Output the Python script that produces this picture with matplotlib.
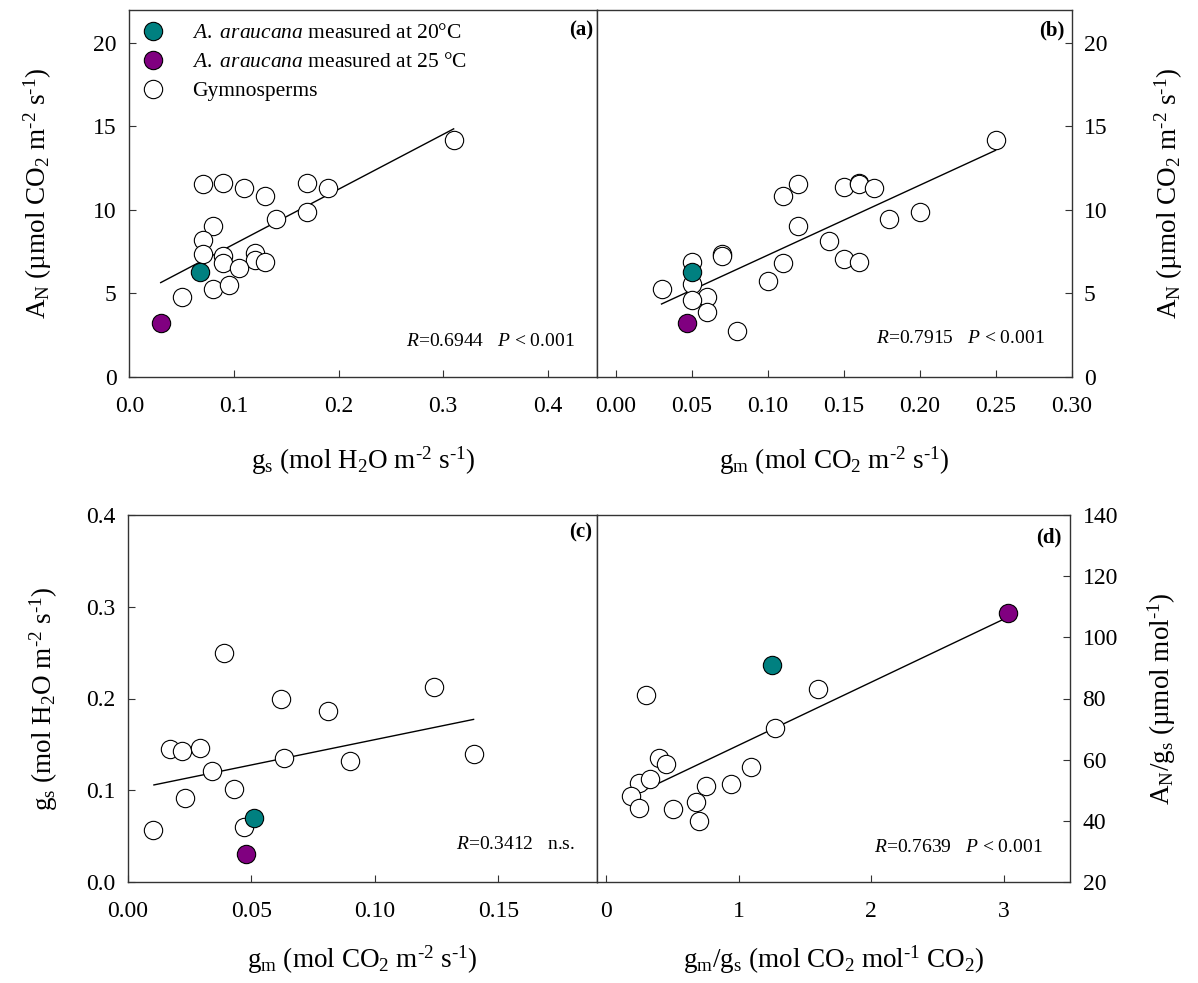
import matplotlib
matplotlib.use("Agg")
import matplotlib.pyplot as plt
import numpy as np
from matplotlib.lines import Line2D

plt.rcParams['font.family'] = ['Liberation Serif', 'DejaVu Serif']
plt.rcParams['mathtext.fontset'] = 'custom'
plt.rcParams['mathtext.rm'] = 'Liberation Serif'
plt.rcParams['mathtext.it'] = 'Liberation Serif:italic'
plt.rcParams['mathtext.bf'] = 'Liberation Serif:bold'
plt.rcParams['mathtext.default'] = 'regular'

TEAL = '#008080'
PURPLE = '#800080'

# ---- panel (a): A_N vs g_s ----
a_gs = [0.05, 0.07, 0.09, 0.11, 0.13, 0.17, 0.19, 0.31, 0.08, 0.14, 0.17,
        0.07, 0.07, 0.09, 0.09, 0.12, 0.12, 0.13, 0.105, 0.08, 0.095]
a_an = [4.75, 11.55, 11.6, 11.3, 10.8, 11.6, 11.3, 14.2, 9.05, 9.45, 9.85,
        8.2, 7.35, 7.26, 6.8, 7.4, 7.0, 6.9, 6.5, 5.28, 5.5]
a_teal = (0.068, 6.3)
a_purple = (0.03, 3.2)
a_fit = (4.65, 32.9, 0.03, 0.31)   # intercept, slope, x from, x to

# ---- panel (b): A_N vs g_m ----
b_gm = [0.25, 0.12, 0.11, 0.15, 0.16, 0.16, 0.17, 0.18, 0.20, 0.12, 0.14,
        0.07, 0.07, 0.11, 0.15, 0.16, 0.05, 0.05, 0.03, 0.10, 0.06, 0.05,
        0.06, 0.08]
b_an = [14.2, 11.55, 10.8, 11.35, 11.6, 11.55, 11.3, 9.45, 9.85, 9.05, 8.15,
        7.35, 7.26, 6.8, 7.05, 6.85, 6.9, 5.55, 5.28, 5.75, 4.75, 4.6,
        3.9, 2.75]
b_teal = (0.050, 6.26)
b_purple = (0.047, 3.24)
b_fit = (3.1, 41.85, 0.03, 0.25)

# ---- panel (c): g_s vs g_m ----
c_gm = [0.010, 0.017, 0.022, 0.029, 0.023, 0.034, 0.039, 0.043, 0.047,
        0.062, 0.063, 0.081, 0.090, 0.124, 0.140]
c_gs = [0.057, 0.145, 0.143, 0.146, 0.092, 0.121, 0.250, 0.101, 0.060,
        0.199, 0.135, 0.186, 0.132, 0.212, 0.140]
c_teal = (0.051, 0.070)
c_purple = (0.048, 0.030)
c_fit = (0.100, 0.5516, 0.0105, 0.140)

# ---- panel (d): A_N/g_s vs g_m/g_s ----
d_ratio = [0.30, 1.60, 1.27, 0.40, 0.45, 1.09, 0.25, 0.33, 0.75, 0.94,
           0.19, 0.25, 0.50, 0.68, 0.70]
d_wue = [81.0, 83.1, 70.3, 60.5, 58.6, 57.7, 52.3, 53.7, 51.5, 52.2,
         48.2, 44.1, 43.8, 46.3, 39.9]
d_teal = (1.25, 91.0)
d_purple = (3.03, 108.0)
d_fit = (44.14, 20.6, 0.209, 3.03)

W, H = 1198, 983
fig = plt.figure(figsize=(W / 100, H / 100), dpi=100)


def px_axes(x0, x1, y0, y1):
    # pixel box (left, right, top, bottom) -> figure axes
    return fig.add_axes([x0 / W, 1 - y1 / H, (x1 - x0) / W, (y1 - y0) / H])


ax_a = px_axes(129.3, 597, 9.5, 376.7)
ax_b = px_axes(597, 1071.5, 9.5, 376.7)
ax_c = px_axes(128, 597, 515, 882)
ax_d = px_axes(597, 1070, 515, 882)

MS = 13.2
TICK_FS = 17
LABEL_FS = 19.5
NOTE_FS = 14
HY = '\u2010'  # short hyphen used in the superscripts


def unit(s):
    return s.replace('^{-', '^{' + HY)


def draw(ax, xs, ys, teal, purple, fit):
    ax.plot(xs, ys, 'o', ms=MS, mfc='white', mec='black', mew=0.8, zorder=3)
    ax.plot(*teal, 'o', ms=MS, mfc=TEAL, mec='black', mew=0.8, zorder=4)
    ax.plot(*purple, 'o', ms=MS, mfc=PURPLE, mec='black', mew=0.8, zorder=4)
    b0, b1, xa, xb = fit
    xx = np.array([xa, xb])
    ax.plot(xx, b0 + b1 * xx, color='black', lw=1.0, zorder=2)
    for s in ax.spines.values():
        s.set_color('#333333')
        s.set_linewidth(1.0)


def style(ax, side):
    ax.tick_params(axis='both', direction='in', length=5, width=0.8,
                   color='#333333', labelsize=TICK_FS)
    ax.tick_params(axis='x', pad=14)
    ax.tick_params(axis='y', pad=9)
    if side == 'right':
        ax.yaxis.tick_right()
        ax.yaxis.set_label_position('right')
        ax.tick_params(axis='y', left=False, right=True)


draw(ax_a, a_gs, a_an, a_teal, a_purple, a_fit)
draw(ax_b, b_gm, b_an, b_teal, b_purple, b_fit)
draw(ax_c, c_gm, c_gs, c_teal, c_purple, c_fit)
draw(ax_d, d_ratio, d_wue, d_teal, d_purple, d_fit)

for ax, side in [(ax_a, 'left'), (ax_b, 'right'), (ax_c, 'left'), (ax_d, 'right')]:
    style(ax, side)

# limits and ticks
ax_a.set_xlim(0, 0.447)
ax_a.set_ylim(0, 22)
ax_a.set_xticks([0.0, 0.1, 0.2, 0.3, 0.4])
ax_a.set_xticklabels(['0.0', '0.1', '0.2', '0.3', '0.4'])
ax_a.set_yticks([0, 5, 10, 15, 20])

ax_b.set_xlim(-0.0125, 0.30)
ax_b.set_ylim(0, 22)
ax_b.set_xticks([0.0, 0.05, 0.10, 0.15, 0.20, 0.25, 0.30])
ax_b.set_xticklabels(['0.00', '0.05', '0.10', '0.15', '0.20', '0.25', '0.30'])
ax_b.set_yticks([0, 5, 10, 15, 20])

ax_c.set_xlim(0, 0.19)
ax_c.set_ylim(0, 0.4)
ax_c.set_xticks([0.0, 0.05, 0.10, 0.15])
ax_c.set_xticklabels(['0.00', '0.05', '0.10', '0.15'])
ax_c.set_yticks([0.0, 0.1, 0.2, 0.3, 0.4])
ax_c.set_yticklabels(['0.0', '0.1', '0.2', '0.3', '0.4'])

ax_d.set_xlim(-0.07, 3.5)
ax_d.set_ylim(20, 140)
ax_d.set_xticks([0, 1, 2, 3])
ax_d.set_yticks([20, 40, 60, 80, 100, 120, 140])

# axis labels
an_label = unit(r'A$_\mathrm{N}$ (µmol CO$_2$ m$^{-2}$ s$^{-1}$)')
ax_a.set_ylabel(an_label, fontsize=LABEL_FS, labelpad=28)
ax_b.set_ylabel(an_label, fontsize=LABEL_FS, labelpad=32)
ax_a.set_xlabel(unit(r'g$_\mathrm{s}$ (mol H$_2$O m$^{-2}$ s$^{-1}$)'), fontsize=LABEL_FS, labelpad=20)
ax_b.set_xlabel(unit(r'g$_\mathrm{m}$ (mol CO$_2$ m$^{-2}$ s$^{-1}$)'), fontsize=LABEL_FS, labelpad=20)
ax_c.set_xlabel(unit(r'g$_\mathrm{m}$ (mol CO$_2$ m$^{-2}$ s$^{-1}$)'), fontsize=LABEL_FS, labelpad=15)
ax_c.set_ylabel(unit(r'g$_\mathrm{s}$ (mol H$_2$O m$^{-2}$ s$^{-1}$)'), fontsize=LABEL_FS, labelpad=19)
ax_d.set_xlabel(unit(r'g$_\mathrm{m}$/g$_\mathrm{s}$ (mol CO$_2$ mol$^{-1}$ CO$_2$)'), fontsize=LABEL_FS, labelpad=15)
ax_d.set_ylabel(unit(r'A$_\mathrm{N}$/g$_\mathrm{s}$ (µmol mol$^{-1}$)'), fontsize=LABEL_FS, labelpad=20)

# panel letters and stats
notes = [
    (ax_a, '(a)', 0.991, 0.944, r'$\it{R}$=0.6944   $\it{P}$ < 0.001', 0.953, 0.0945),
    (ax_b, '(b)', 0.986, 0.944, r'$\it{R}$=0.7915   $\it{P}$ < 0.001', 0.944, 0.103),
    (ax_c, '(c)', 0.989, 0.951, r'$\it{R}$=0.3412   n.s.', 0.953, 0.1035),
    (ax_d, '(d)', 0.983, 0.940, r'$\it{R}$=0.7639   $\it{P}$ < 0.001', 0.943, 0.095),
]
for ax, letter, lx, ly, stat, sx, sy in notes:
    ax.text(lx, ly, letter, transform=ax.transAxes, ha='right', va='center',
            fontsize=15, fontweight='bold')
    ax.text(sx, sy, stat, transform=ax.transAxes, ha='right', va='center',
            fontsize=NOTE_FS)

# legend in panel (a)
handles = [
    Line2D([], [], ls='none', marker='o', ms=MS, mfc=TEAL, mec='black', mew=0.8),
    Line2D([], [], ls='none', marker='o', ms=MS, mfc=PURPLE, mec='black', mew=0.8),
    Line2D([], [], ls='none', marker='o', ms=MS, mfc='white', mec='black', mew=0.8),
]
labels = [r'$\it{A.\ araucana}$ measured at 20°C',
          r'$\it{A.\ araucana}$ measured at 25 °C',
          'Gymnosperms']
ax_a.legend(handles, labels, loc='upper left', bbox_to_anchor=(0.023, 0.963),
            frameon=False, fontsize=15.5, borderpad=0, borderaxespad=0,
            handlelength=1.2, handletextpad=1.2, labelspacing=0.42)

fig.savefig('out.png', dpi=100)
